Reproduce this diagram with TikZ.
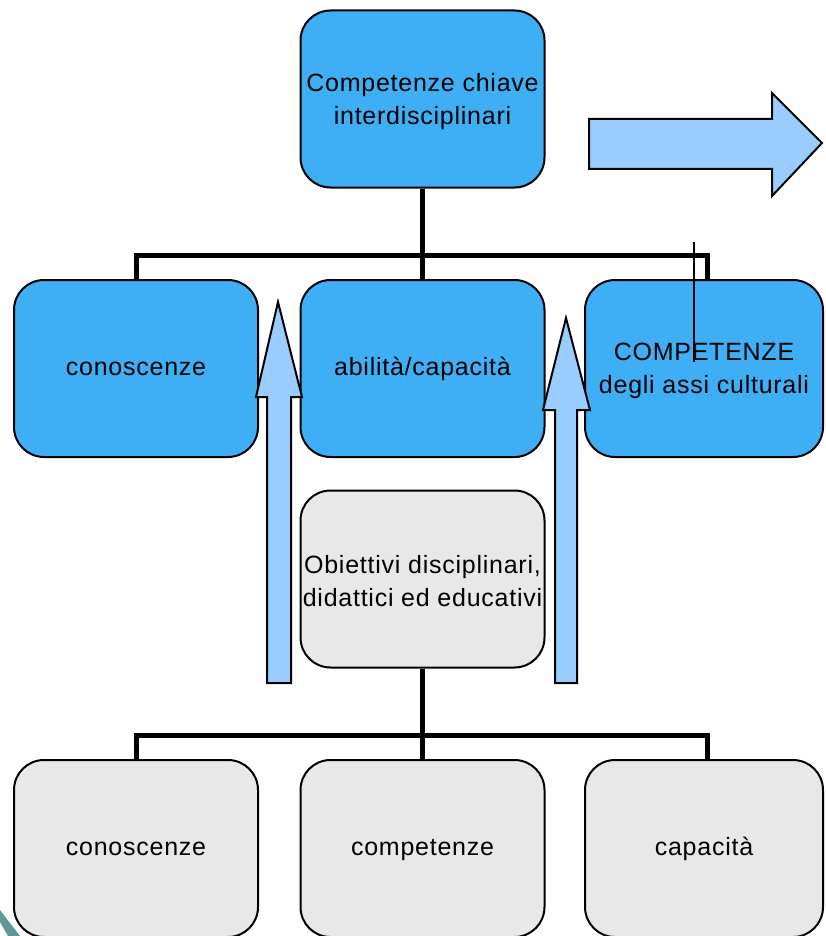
\documentclass[tikz,border=0pt]{standalone}
\usepackage{fontspec}
\setmainfont[LetterSpace=3]{Liberation Sans}
\usepackage{tikz}
\usetikzlibrary{positioning}
\definecolor{boxblue}{RGB}{62,174,245}
\definecolor{arrowblue}{RGB}{153,204,255}
\definecolor{boxgray}{RGB}{232,232,232}
\definecolor{bandteal}{RGB}{95,150,150}
\begin{document}
\begin{tikzpicture}[x=1pt,y=-1pt,
    box/.style={draw,line width=2pt,rounded corners=30pt,minimum width=244pt,minimum height=177pt,align=center,inner sep=0pt,font=\fontsize{25}{33}\selectfont},
    bluebox/.style={box,fill=boxblue},
    graybox/.style={box,fill=boxgray},
    conn/.style={line width=5pt},
    bigarrow/.style={draw,line width=2pt,fill=arrowblue,line join=miter}]
  \useasboundingbox (0,0) rectangle (825,936);
  \begin{scope}
    \fill[bandteal] (0,910) -- (20,936) -- (8,936) -- (0,922) -- cycle;

    \node[bluebox] (top) at (422.5,99) {\strut Competenze chiave\\interdisciplinari};

    \node[bluebox] (kl) at (136,368.5) {\strut conoscenze};
    \node[bluebox] (km) at (422.5,368.5) {\strut abilità/capacità};
    \node[bluebox,minimum width=238pt] (kr) at (704,368.5) {\strut COMPETENZE\\degli assi culturali};

    \coordinate (bus1) at (422.5,255);
    \coordinate (kr top) at (707,280);
    \path[draw,conn] (top.south) -- (bus1);
    \path[draw,conn] (kl.north) |- (bus1) -| (kr top);
    \path[draw,conn] (bus1) -- (km.north);

    \node[graybox] (obj) at (422.5,579) {\strut Obiettivi disciplinari,\\didattici ed educativi};

    \node[graybox] (bl) at (136,848.5) {\strut conoscenze};
    \node[graybox] (bm) at (422.5,848.5) {\strut competenze};
    \node[graybox,minimum width=238pt] (br) at (704,848.5) {\strut capacità};

    \coordinate (bus2) at (422.5,735);
    \coordinate (br top) at (707,760);
    \path[draw,conn] (obj.south) -- (bus2);
    \path[draw,conn] (bl.north) |- (bus2) -| (br top);
    \path[draw,conn] (bus2) -- (bm.north);

    \path[bigarrow] (267,683) -- (267,397) -- (256,397) -- (278,302) -- (302,397) -- (291,397) -- (291,683) -- cycle;
    \path[bigarrow] (555,683) -- (555,410) -- (543,410) -- (566,318) -- (590,410) -- (577,410) -- (577,683) -- cycle;
    \path[bigarrow] (589,119) -- (772,119) -- (772,93) -- (822,143) -- (772,196) -- (772,169) -- (589,169) -- cycle;

    \coordinate (mark a) at (694,242);
    \coordinate (mark b) at (694,362);
    \path[draw,line width=1.5pt] (mark a) -- (mark b);
  \end{scope}
\end{tikzpicture}
\end{document}
